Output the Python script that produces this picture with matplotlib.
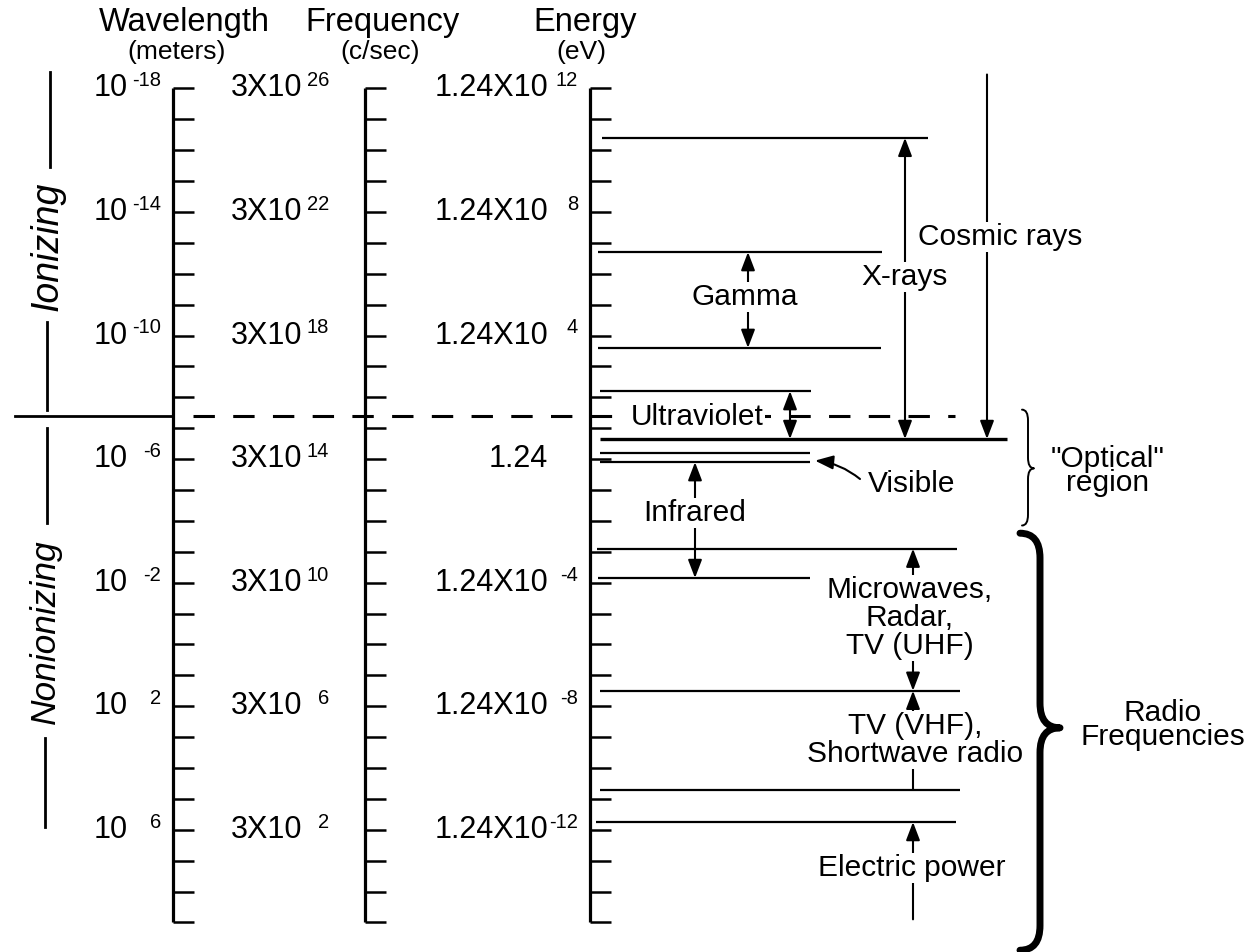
import numpy as np
import matplotlib
matplotlib.use("Agg")
import matplotlib.pyplot as plt
from matplotlib.patches import FancyArrowPatch, PathPatch
from matplotlib.path import Path

plt.rcParams["font.family"] = ["Liberation Sans", "DejaVu Sans"]

# ---------------- data: vertical positions are log10(wavelength / m) ----------------
decade_ticks = list(range(-18, 10))
wavelength_exponents = [-18, -14, -10, -6, -2, 2, 6]
frequency_exponents = [26, 22, 18, 14, 10, 6, 2]
energy_exponents = [12, 8, 4, None, -4, -8, -12]

ionizing_limit = -7.4

boundary_levels = [-16.4, -12.7, -9.6, -8.2, -6.65, -6.2, -5.9, -3.1, -2.15, 1.5, 4.7, 5.75]

band_labels = ["Cosmic rays", "X-rays", "Gamma", "Ultraviolet", "Infrared",
               "Microwaves,\nRadar,\nTV (UHF)", "TV (VHF),\nShortwave radio",
               "Electric power"]
band_top = [-18.45, -16.4, -12.7, -8.2, -5.9, -3.1, 1.5, 5.75]
band_bottom = [-6.65, -6.65, -9.6, -6.65, -2.15, 1.5, 4.7, 8.9]
band_heads = ["-|>", "<|-|>", "<|-|>", "<|-|>", "<|-|>", "<|-|>", "<|-", "<|-"]

visible_band = [-6.2, -5.9]

region_labels = ['"Optical"\nregion', "Radio\nFrequencies"]
region_top = [-7.6, -3.6]
region_bottom = [-3.85, 9.9]
region_tip = [-5.7, 2.7]

# ---------------- layout (horizontal positions in pixels) ----------------
W, H = 1258, 952


def ypos(px):
    """layout helper: pixel row -> decade coordinate"""
    return (px - 517.0) / 30.89 - 4.125


boundary_x0 = [602, 598, 598, 600, 600, 600, 600, 597, 598, 600, 600, 596]
boundary_x1 = [928, 882, 881, 811, 1007, 810, 810, 957, 810, 960, 960, 956]
boundary_lw = [1.6, 1.6, 1.6, 1.6, 2.4, 1.6, 1.6, 1.6, 1.6, 1.6, 1.6, 1.6]

band_arrow_x = [987, 905, 748, 790, 695, 913, 913, 913]
band_label_x = [1000, 905, 745, 697, 695, 910, 915, 912]
band_label_px = [237, 277, 297, 417, 513, 618, 740, 868]
band_linespacing = [1.2, 1.2, 1.2, 1.2, 1.2, 0.98, 0.98, 1.2]

scale_x = [173, 365, 590]
tick_len = 21

fig = plt.figure(figsize=(W / 100, H / 100), dpi=100)
ax = fig.add_axes([0, 0, 1, 1])
ax.set_xlim(0, W)
ax.set_ylim(ypos(H), ypos(0))
ax.axis("off")

LBL = 21.5
bb = dict(facecolor="white", edgecolor="none", pad=1.0)

# ---------------- the three scales ----------------
for sx in scale_x:
    ax.plot([sx, sx], [decade_ticks[0], decade_ticks[-1]], color="black", lw=2.3,
            solid_capstyle="butt")
    ax.hlines(decade_ticks, sx, sx + tick_len, color="black", lw=1.8)

# headers
ax.text(184, ypos(22), "Wavelength", ha="center", va="center", fontsize=23.5)
ax.text(177, ypos(52), "(meters)", ha="center", va="center", fontsize=19)
ax.text(382, ypos(22), "Frequency", ha="center", va="center", fontsize=23.5)
ax.text(380, ypos(52), "(c/sec)", ha="center", va="center", fontsize=19)
ax.text(585, ypos(22), "Energy", ha="center", va="center", fontsize=23.5)
ax.text(581, ypos(52), "(eV)", ha="center", va="center", fontsize=19)

# tick labels
for d, fe, ee in zip(wavelength_exponents, frequency_exponents, energy_exponents):
    ax.text(128, d, "10", ha="right", va="center", fontsize=22)
    ax.annotate(f"{d}", xy=(161, d), xytext=(0, 5.5), textcoords="offset points",
                ha="right", va="center", fontsize=14.5)
    ax.text(302, d, "3X10", ha="right", va="center", fontsize=22)
    ax.annotate(f"{fe}", xy=(329, d), xytext=(0, 5.5), textcoords="offset points",
                ha="right", va="center", fontsize=14.5)
    if ee is None:
        ax.text(548, d, "1.24", ha="right", va="center", fontsize=22)
    else:
        ax.text(548, d, "1.24X10", ha="right", va="center", fontsize=22)
        ax.annotate(f"{ee}", xy=(578, d), xytext=(0, 5.5), textcoords="offset points",
                    ha="right", va="center", fontsize=14.5)

# ---------------- ionizing / nonionizing ----------------
ax.plot([15, scale_x[0]], [ionizing_limit, ionizing_limit], color="black", lw=2.0)
ax.plot([193, 955], [ionizing_limit, ionizing_limit], color="black", lw=2.2,
        linestyle=(0, (7, 6)))

ax.plot([50, 50], [ypos(72), ypos(167)], color="black", lw=2.0)
ax.plot([47, 47], [ypos(322), ypos(410)], color="black", lw=2.0)
ax.text(48, ypos(246), "Ionizing", rotation=90, style="italic", fontsize=27,
        ha="center", va="center")
ax.plot([47, 47], [ypos(428), ypos(523)], color="black", lw=2.0)
ax.plot([45, 45], [ypos(738), ypos(827)], color="black", lw=2.0)
ax.text(45, ypos(632), "Nonionizing", rotation=90, style="italic", fontsize=25.5,
        ha="center", va="center")

# ---------------- band boundaries ----------------
for lvl, x0, x1, lw in zip(boundary_levels, boundary_x0, boundary_x1, boundary_lw):
    ax.plot([x0, x1], [lvl, lvl], color="black", lw=lw, solid_capstyle="butt")

# ---------------- band arrows and labels ----------------
for lab, top, bot, hs, axx, lx, lpx, ls in zip(band_labels, band_top, band_bottom,
                                               band_heads, band_arrow_x, band_label_x,
                                               band_label_px, band_linespacing):
    style = f"{hs},head_length=1.1,head_width=0.42"
    arr = FancyArrowPatch((axx, top), (axx, bot), arrowstyle=style, mutation_scale=10,
                          color="black", lw=1.5, shrinkA=0, shrinkB=0, zorder=2)
    ax.add_patch(arr)
    ax.text(lx, ypos(lpx), lab, ha="center", va="center", fontsize=LBL,
            linespacing=ls, bbox=bb, zorder=3)

# visible
ax.text(912, ypos(484), "Visible", ha="center", va="center", fontsize=LBL, zorder=3)
vis = FancyArrowPatch((860, ypos(479)), (815, visible_band[1] - 0.05),
                      arrowstyle="-|>,head_length=1.1,head_width=0.42", mutation_scale=10,
                      connectionstyle="arc3,rad=0.15", color="black", lw=1.5,
                      shrinkA=0, shrinkB=0)
ax.add_patch(vis)


# ---------------- braces ----------------
def brace(x0, top, bot, tip, w, r, lw):
    verts = [(x0, top), (x0 + w, top), (x0 + w, top + r),
             (x0 + w, tip - r), (x0 + w, tip), (x0 + 2 * w, tip),
             (x0 + w, tip), (x0 + w, tip + r),
             (x0 + w, bot - r), (x0 + w, bot), (x0, bot)]
    codes = [Path.MOVETO, Path.CURVE3, Path.CURVE3,
             Path.LINETO, Path.CURVE3, Path.CURVE3,
             Path.CURVE3, Path.CURVE3,
             Path.LINETO, Path.CURVE3, Path.CURVE3]
    ax.add_patch(PathPatch(Path(verts, codes), facecolor="none", edgecolor="black",
                           lw=lw, capstyle="round", joinstyle="round"))


brace(1022, region_top[0], region_bottom[0], region_tip[0], 6, 0.35, 1.4)
brace(1020, region_top[1], region_bottom[1], region_tip[1], 20, 0.8, 5.0)

ax.text(1108, ypos(471), region_labels[0], ha="center", va="center", fontsize=LBL,
        linespacing=0.82)
ax.text(1163, ypos(725), region_labels[1], ha="center", va="center", fontsize=LBL,
        linespacing=0.82)

fig.savefig("out.png", dpi=100)
